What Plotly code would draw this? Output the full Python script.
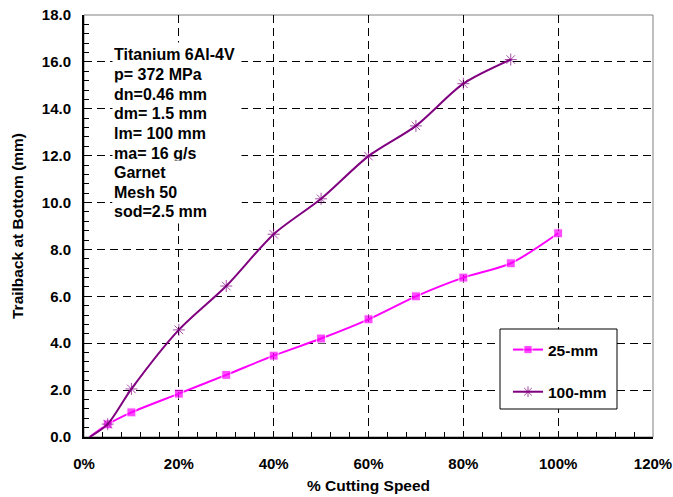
import plotly.graph_objects as go

# Data
speed = [0.012, 0.05, 0.10, 0.20, 0.30, 0.40, 0.50, 0.60, 0.70, 0.80, 0.90, 1.00]
trail_25 = [0.0, 0.54, 1.05, 1.85, 2.65, 3.47, 4.20, 5.02, 6.00, 6.80, 7.41, 8.69]
speed_100 = [0.012, 0.05, 0.10, 0.20, 0.30, 0.40, 0.50, 0.60, 0.70, 0.80, 0.90]
trail_100 = [0.0, 0.55, 2.05, 4.57, 6.44, 8.65, 10.16, 11.98, 13.27, 15.07, 16.10]
info_lines = ["Titanium 6Al-4V", "p= 372 MPa", "dn=0.46 mm", "dm= 1.5 mm", "lm= 100 mm",
              "ma= 16 g/s", "Garnet", "Mesh 50", "sod=2.5 mm"]

FONT = "Arial"
L, R, T, B = 84, 20, 15, 60
W, H = 673, 497
pw = W - L - R
ph = H - T - B

def px_x(p):
    return (p - L) / pw

def px_y(p):
    return (H - B - p) / ph

def sizes(n, s):
    return [0] + [s] * (n - 1)

def bold(t):
    return "<b>" + t + "</b>"

fig = go.Figure()
fig.add_trace(go.Scatter(
    x=speed, y=trail_25, name=bold("25-mm"), mode="lines+markers",
    line=dict(color="#FF00FF", width=2, shape="spline", smoothing=0.8),
    marker=dict(symbol="square", size=sizes(len(speed), 9), color="#FF00FF"),
    legendgroup="a"))
fig.add_trace(go.Scatter(
    x=speed_100, y=trail_100, name=bold("100-mm"), mode="lines+markers",
    line=dict(color="#800080", width=2, shape="spline", smoothing=0.8),
    marker=dict(symbol="asterisk-open", size=sizes(len(speed_100), 10),
                line=dict(color="#800080", width=1)),
    legendgroup="b"))

# plot border (grey top/right)
fig.add_shape(type="rect", xref="paper", yref="paper", x0=0, x1=1, y0=0, y1=1,
              line=dict(color="#808080", width=1), layer="below")
# legend frame
fig.add_shape(type="rect", xref="paper", yref="paper",
              x0=px_x(500), x1=px_x(617), y0=px_y(409), y1=px_y(329),
              fillcolor="white", line=dict(color="black", width=1), layer="above")

line_px = 19.6
for i, t in enumerate(info_lines):
    ypix = 55 + i * line_px
    fig.add_annotation(x=px_x(112), y=px_y(ypix),
                       xref="paper", yref="paper", text=bold(t), showarrow=False,
                       xanchor="left", yanchor="middle", bgcolor="white",
                       width=126, height=21, align="left", borderpad=1,
                       font=dict(family=FONT, size=16, color="black"))

fig.update_layout(
    width=W, height=H, margin=dict(l=L, r=R, t=T, b=B, autoexpand=False),
    paper_bgcolor="white", plot_bgcolor="white",
    font=dict(family=FONT, size=15, color="black", weight="bold"),
    showlegend=True,
    legend=dict(x=px_x(508), y=px_y(333), xanchor="left", yanchor="top",
                borderwidth=0, bgcolor="rgba(0,0,0,0)",
                tracegroupgap=19, font=dict(size=15.5)),
    xaxis=dict(range=[0, 1.2], tickmode="linear", tick0=0, dtick=0.2, tickformat=".0%",
               showgrid=True, gridcolor="black", griddash="8px,5px", gridwidth=1,
               showline=True, linecolor="black", linewidth=2,
               ticks="inside", ticklen=5, tickcolor="black",
               minor=dict(tickmode="linear", tick0=0, dtick=0.04, ticks="inside", ticklen=5,
                          tickcolor="black", tickwidth=1, showgrid=False),
               ticklabelstandoff=12, tickfont=dict(size=15, weight="bold"),
               title=dict(text=bold("% Cutting Speed"), standoff=9,
                          font=dict(size=15.5, weight="bold")),
               zeroline=False, automargin=False),
    yaxis=dict(range=[0, 18], tickmode="linear", tick0=0, dtick=2, tickformat=".1f",
               showgrid=True, gridcolor="black", griddash="8px,5px", gridwidth=1,
               showline=True, linecolor="black", linewidth=2,
               ticks="inside", ticklen=5, tickcolor="black",
               minor=dict(tickmode="linear", tick0=0, dtick=0.4, ticks="inside", ticklen=5,
                          tickcolor="black", tickwidth=1, showgrid=False),
               ticklabelstandoff=8, tickfont=dict(size=15, weight="bold"),
               title=dict(text=bold("Trailback at Bottom (mm)"), standoff=14,
                          font=dict(size=15.5, weight="bold")),
               zeroline=False, automargin=False),
)

fig.write_html("out.html")
